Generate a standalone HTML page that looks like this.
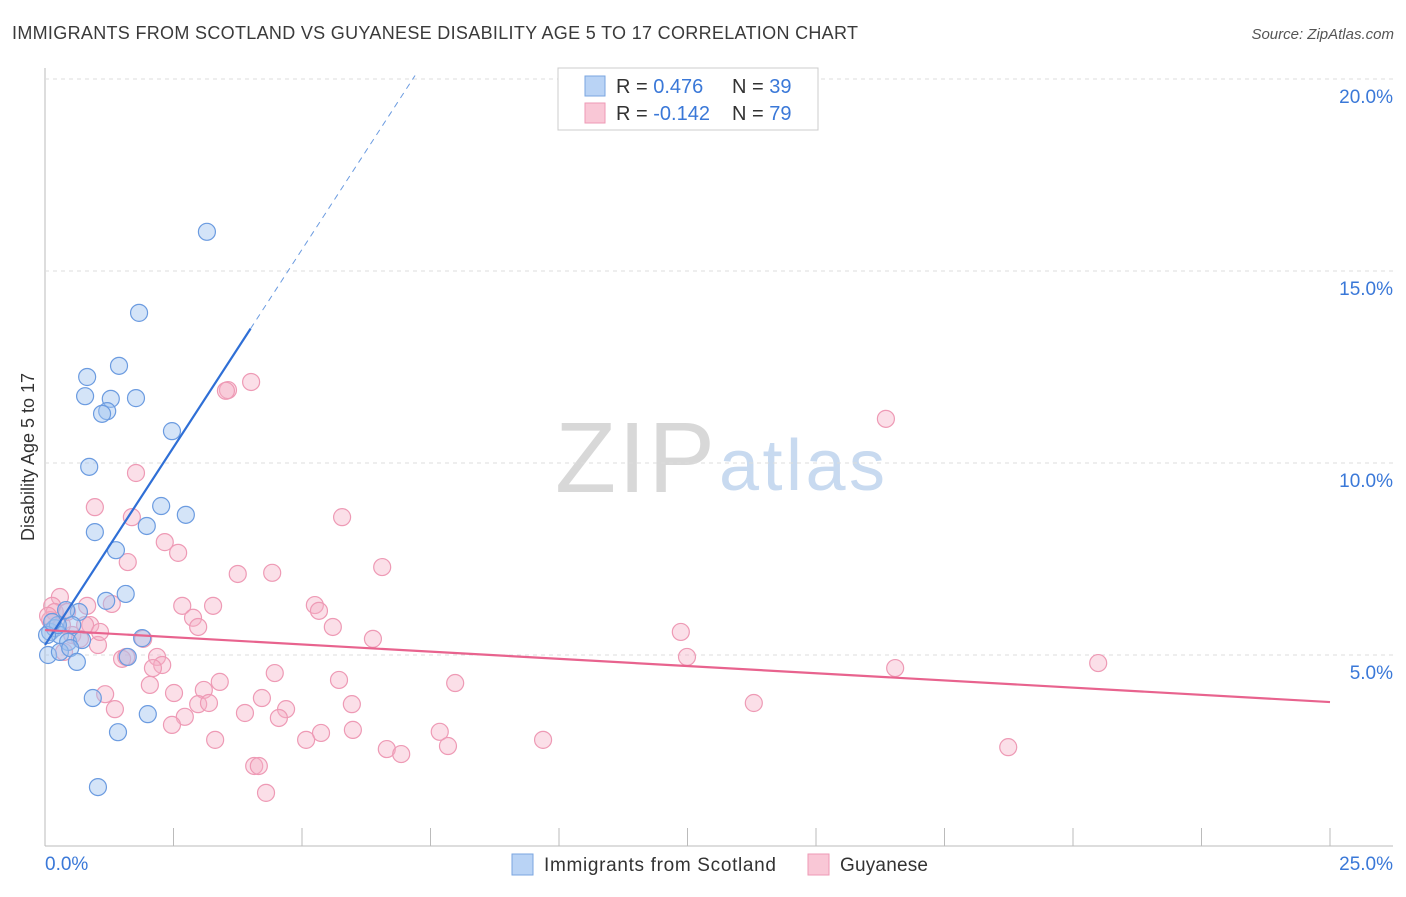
<!DOCTYPE html>
<html><head><meta charset="utf-8"><style>
body{margin:0;background:#fff;font-family:"Liberation Sans",sans-serif}
svg text{font-family:"Liberation Sans",sans-serif}
</style></head><body>
<svg id="c" width="1406" height="892">
<text x="12" y="39" font-size="18" fill="#3a3a3a" textLength="846">IMMIGRANTS FROM SCOTLAND VS GUYANESE DISABILITY AGE 5 TO 17 CORRELATION CHART</text>
<text x="1394" y="39" font-size="15" fill="#555" font-style="italic" text-anchor="end">Source: ZipAtlas.com</text>
<text x="555" y="492" font-size="100" fill="#d8d8d8" textLength="160" font-family="Liberation Serif">ZIP</text>
<text x="719" y="490" font-size="72" fill="#c8daf0" textLength="166">atlas</text>
<text transform="translate(34,457) rotate(-90)" font-size="18" fill="#333" text-anchor="middle">Disability Age 5 to 17</text>
<g id="grid"></g><g id="marks"></g>
<g>
<rect x="558" y="68" width="260" height="62" fill="#fff" stroke="#ccc"/>
<rect x="585" y="76" width="20" height="20" fill="#b9d3f5" stroke="#7aa6e0"/>
<rect x="585" y="103" width="20" height="20" fill="#f9c7d6" stroke="#ee9ab5"/>
<text x="616" y="93" font-size="20" fill="#333">R = <tspan fill="#3a78d8">0.476</tspan><tspan x="732">N = </tspan><tspan fill="#3a78d8">39</tspan></text>
<text x="616" y="120" font-size="20" fill="#333">R = <tspan fill="#3a78d8">-0.142</tspan><tspan x="732">N = </tspan><tspan fill="#3a78d8">79</tspan></text>
</g>
<g>
<rect x="512" y="854" width="21" height="21" fill="#b9d3f5" stroke="#7aa6e0"/>
<text x="544" y="871" font-size="19" fill="#333" textLength="232">Immigrants from Scotland</text>
<rect x="808" y="854" width="21" height="21" fill="#f9c7d6" stroke="#ee9ab5"/>
<text x="840" y="871" font-size="19" fill="#333" textLength="88">Guyanese</text>
</g>
</svg>
<script>
const yTicks=[5,10,15,20];
const xTickVals=[0,2.5,5,7.5,10,12.5,15,17.5,20,22.5,25];
const blueX=[3.15,1.83,1.44,0.82,0.78,1.28,1.77,1.21,1.11,2.47,0.86,2.26,2.74,1.98,0.97,1.38,1.57,1.19,0.66,0.41,0.10,0.19,0.29,0.53,0.45,0.72,0.06,0.29,0.49,1.61,0.62,1.89,0.93,2.00,1.42,1.03,0.25,0.04,0.14];
const blueY=[16.02,13.91,12.53,12.24,11.74,11.67,11.69,11.35,11.28,10.83,9.90,8.88,8.65,8.36,8.20,7.73,6.59,6.41,6.12,6.17,5.60,5.70,5.52,5.78,5.34,5.39,5.00,5.08,5.18,4.95,4.82,5.44,3.88,3.46,2.99,1.56,5.78,5.52,5.86];
const pinkX=[4.01,3.56,3.52,16.36,1.77,0.97,1.69,5.78,2.33,2.59,1.61,6.56,3.75,4.42,0.29,0.14,0.19,1.30,0.82,2.67,3.27,5.25,5.33,2.88,2.98,5.60,0.88,0.53,0.68,1.91,1.03,6.38,12.37,0.33,0.10,2.18,1.50,1.58,2.28,2.10,12.49,16.54,20.49,4.47,1.17,2.04,3.40,5.72,7.98,2.51,3.09,4.22,1.36,2.98,3.19,4.69,5.97,4.55,3.89,2.72,2.47,13.79,5.37,5.08,7.68,5.99,3.31,9.69,7.84,6.65,6.93,18.74,4.07,4.16,4.30,0.78,0.43,0.06,1.07,0.37];
const pinkY=[12.11,11.90,11.88,11.15,9.74,8.85,8.59,8.59,7.94,7.66,7.42,7.29,7.11,7.14,6.51,6.28,6.12,6.33,6.28,6.28,6.28,6.30,6.15,5.97,5.73,5.73,5.78,5.52,5.42,5.42,5.26,5.42,5.60,5.78,5.91,4.95,4.90,4.95,4.74,4.66,4.95,4.66,4.79,4.53,3.98,4.22,4.30,4.35,4.27,4.01,4.09,3.88,3.59,3.72,3.75,3.59,3.72,3.36,3.49,3.39,3.18,3.75,2.97,2.79,3.00,3.05,2.79,2.79,2.63,2.55,2.42,2.60,2.11,2.11,1.41,5.78,6.12,6.02,5.60,5.08];
const blueTrend=[5.26,2.06]; // intercept, slope
const pinkTrend=[5.65,-0.075];
const X=v=>45+v*51.4, Y=v=>847-v*38.4;
const ns="http://www.w3.org/2000/svg";
function mk(t,a,p){const e=document.createElementNS(ns,t);for(const k in a)e.setAttribute(k,a[k]);p.appendChild(e);return e;}
const g=document.getElementById('grid'), m=document.getElementById('marks');
let ax=mk('line',{x1:45,y1:68,x2:45,y2:846,stroke:'#bbb'},g);


let bx=mk('line',{x1:45,y1:846,x2:1393,y2:846,stroke:'#bbb'},g);


yTicks.forEach(v=>{
 let l=mk('line',{x1:45,y1:Y(v),x2:1393,y2:Y(v),stroke:'#ddd','stroke-dasharray':'4,4'},g);
 
 
 let t=mk('text',{x:1393,y:Y(v)+24,'font-size':19,fill:'#3a78d8','text-anchor':'end'},g);
 t.textContent=v.toFixed(1)+'%';
 
 
});
xTickVals.forEach(v=>{
 let l=mk('line',{x1:X(v),y1:828,x2:X(v),y2:846,stroke:'#bbb'},g);
 
 
});
[[0,'0.0%','start',45],[25,'25.0%','end',1393]].forEach(a=>{
 let t=mk('text',{x:a[3],y:870,'font-size':19,fill:'#3a78d8','text-anchor':a[2]},g);
 t.textContent=a[1];
 
 
});
pinkX.forEach((x,i)=>{
 let c=mk('circle',{cx:X(x),cy:Y(pinkY[i]),r:8.5,fill:'rgba(246,176,198,0.4)',stroke:'#ee9ab5','stroke-width':1.2},m);
 
 
});
blueX.forEach((x,i)=>{
 let c=mk('circle',{cx:X(x),cy:Y(blueY[i]),r:8.5,fill:'rgba(160,196,240,0.45)',stroke:'#6b9be0','stroke-width':1.2},m);
 
 
});
let b1=mk('line',{x1:X(0),y1:Y(blueTrend[0]),x2:X(4),y2:Y(blueTrend[0]+4*blueTrend[1]),stroke:'#2f6fd6','stroke-width':2.2},m);


let b2=mk('line',{x1:X(4),y1:Y(blueTrend[0]+4*blueTrend[1]),x2:X(7.2),y2:Y(blueTrend[0]+7.2*blueTrend[1]),stroke:'#6b9be0','stroke-width':1,'stroke-dasharray':'6,5'},m);


let p1=mk('line',{x1:X(0),y1:Y(pinkTrend[0]),x2:X(25),y2:Y(pinkTrend[0]+25*pinkTrend[1]),stroke:'#e8638e','stroke-width':2.2},m);


</script>
</body></html>
